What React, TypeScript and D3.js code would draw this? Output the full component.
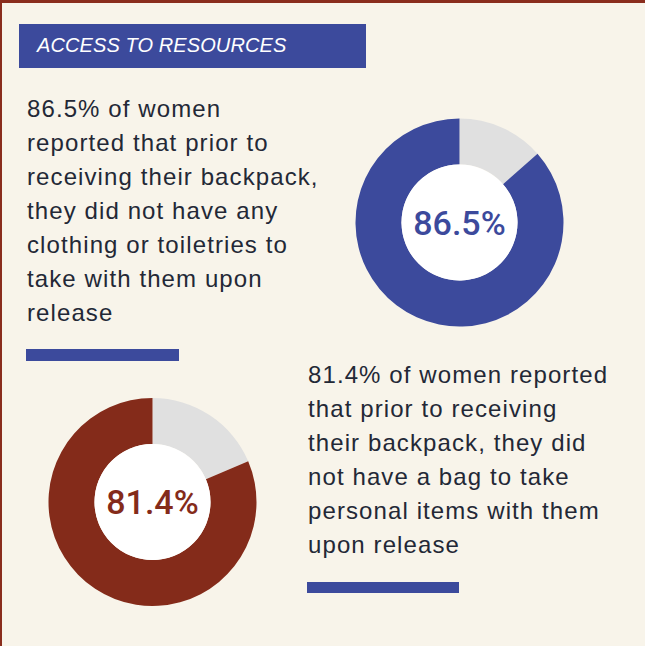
import React from "react";
import * as d3 from "d3";

const W = 645;
const H = 646;

const title = "ACCESS TO RESOURCES";
const percentages = [86.5, 81.4];
const percentLabels = ["86.5%", "81.4%"];
const paragraph1 = [
  "86.5% of women",
  "reported that prior to",
  "receiving their backpack,",
  "they did not have any",
  "clothing or toiletries to",
  "take with them upon",
  "release",
];
const paragraph2 = [
  "81.4% of women reported",
  "that prior to receiving",
  "their backpack, they did",
  "not have a bag to take",
  "personal items with them",
  "upon release",
];

const BG = "#f8f4ea";
const BLUE = "#3c4a9c";
const RED = "#842b1a";
const GREY = "#e0e0e0";
const TEXT = "#232836";

const donutLayout = [
  { cx: 459.5, cy: 222.5, color: BLUE },
  { cx: 152.5, cy: 502, color: RED },
];

const outerR = 104;
const innerR = 58;

function Donut({ value, label, cx, cy, color }: { value: number; label: string; cx: number; cy: number; color: string }) {
  const pie = d3
    .pie<{ k: string; v: number }>()
    .sort(null)
    .value((d) => d.v);
  const arcs = pie([
    { k: "rest", v: 100 - value },
    { k: "value", v: value },
  ]);
  const arc = d3.arc<d3.PieArcDatum<{ k: string; v: number }>>().innerRadius(innerR).outerRadius(outerR);
  return (
    <g transform={`translate(${cx},${cy})`}>
      {arcs.map((a) => (
        <path key={a.data.k} d={arc(a) || ""} fill={a.data.k === "rest" ? GREY : color} />
      ))}
      <circle r={innerR} fill="#ffffff" />
      <text
        x={0}
        y={12}
        textAnchor="middle"
        fill={color}
        style={{ fontFamily: "Roboto, 'Liberation Sans', sans-serif", fontWeight: 500, fontSize: 34 }}
      >
        {label}
      </text>
    </g>
  );
}

function Paragraph({ lines, x, y0 }: { lines: string[]; x: number; y0: number }) {
  return (
    <g>
      {lines.map((l, i) => (
        <text
          key={i}
          x={x}
          y={y0 + i * 34}
          fill={TEXT}
          style={{ fontFamily: "'Liberation Sans', Arial, sans-serif", fontSize: 24, letterSpacing: "1.1px" }}
        >
          {l}
        </text>
      ))}
    </g>
  );
}

export default function App() {
  return (
    <svg
      width={W}
      height={H}
      viewBox={`0 0 ${W} ${H}`}
      style={{ position: "absolute", left: 0, top: 0, display: "block" }}
    >
      <rect x={0} y={0} width={W} height={H} fill={BG} />
      <rect x={0} y={0} width={W} height={3} fill="#8a2d1d" />
      <rect x={0} y={0} width={2} height={H} fill="#8a2d1d" />

      <rect x={19} y={24} width={347} height={44} fill={BLUE} />
      <text
        x={37}
        y={52}
        fill="#ffffff"
        style={{ fontFamily: "'Liberation Sans', Arial, sans-serif", fontStyle: "italic", fontSize: 20, letterSpacing: "0.1px" }}
      >
        {title}
      </text>

      <Paragraph lines={paragraph1} x={27} y0={117} />
      <rect x={26} y={349} width={153} height={12} fill={BLUE} />

      <Paragraph lines={paragraph2} x={308} y0={383} />
      <rect x={307} y={582} width={152} height={11} fill={BLUE} />

      {percentages.map((p, i) => (
        <Donut
          key={i}
          value={p}
          label={percentLabels[i]}
          cx={donutLayout[i].cx}
          cy={donutLayout[i].cy}
          color={donutLayout[i].color}
        />
      ))}
    </svg>
  );
}
